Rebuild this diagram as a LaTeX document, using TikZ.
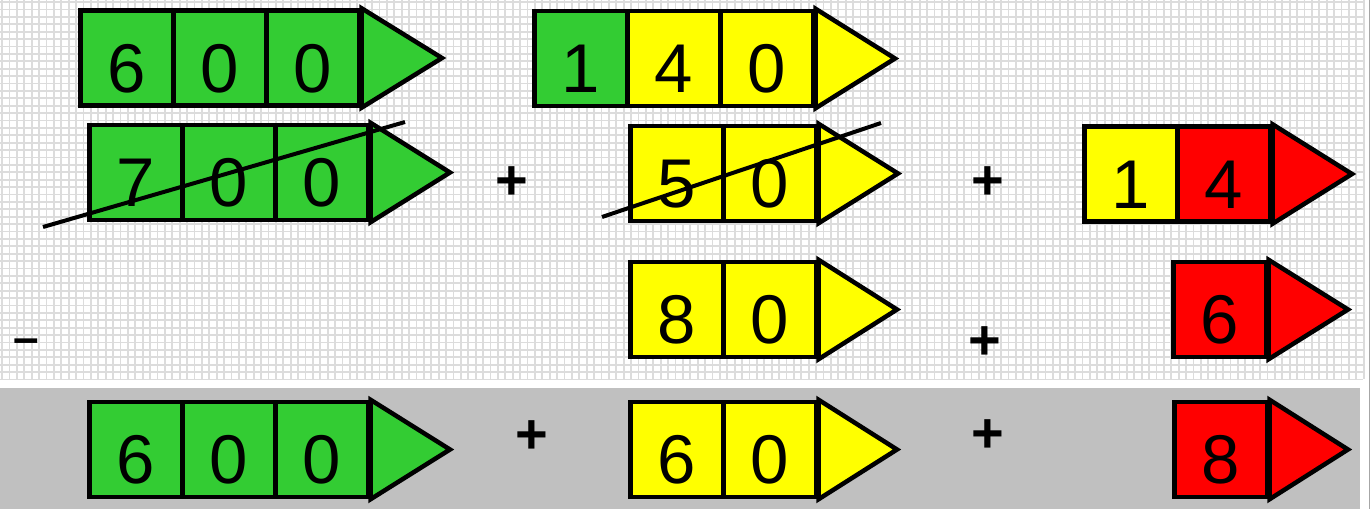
\documentclass[tikz,border=0pt]{standalone}
\usepackage{fontspec}
\setmainfont{Liberation Sans}
\definecolor{pgreen}{RGB}{51,204,51}
\definecolor{pyellow}{RGB}{255,255,0}
\definecolor{pred}{RGB}{255,0,0}
\definecolor{band}{RGB}{192,192,192}
\definecolor{gridc}{RGB}{220,220,220}
\tikzset{
  cellbox/.style={rectangle,draw=black,line width=4.5pt,minimum width=93pt,minimum height=95pt,
    inner sep=0pt,anchor=west,font=\fontsize{69}{69}\selectfont,text height=68pt,text depth=0pt},
  tipshape/.style={draw=black,line width=4.5pt,line join=miter},
  opsign/.style={font=\fontsize{56}{56}\selectfont\bfseries,inner sep=0pt},
  strike/.style={draw=black,line width=4pt}
}
\newcommand\mycell[5]{\node[cellbox,fill=#4] (#1) at (#2,#3) {#5};}
\newcommand\mytip[4]{\coordinate (#1t) at (#2,#3);
  \filldraw[tipshape,fill=#4] (#1.north east) -- (#1t) -- (#1.south east) -- cycle;}
\begin{document}
\begin{tikzpicture}[x=1pt,y=-1pt]
\useasboundingbox (0,0) rectangle (1371,509);
\fill[white] (0,0) rectangle (1371,509);
% grid
\foreach \i in {0,...,184} {\draw[gridc,line width=1.8pt] (\i*7.4+2,0) -- (\i*7.4+2,379);}
\foreach \j in {0,...,51} {\draw[gridc,line width=1.8pt] (0,\j*7.4+2) -- (1363,\j*7.4+2);}
\fill[band] (0,388) rectangle (1360,509);
\draw[gray!70,line width=1.5pt] (1369.5,0) -- (1369.5,509);
% row 1
\mycell{a1}{78}{58}{pgreen}{6}
\mycell{a2}{171}{58}{pgreen}{0}
\mycell{a3}{264}{58}{pgreen}{0}
\mytip{a3}{442}{58}{pgreen}
\mycell{b1}{532}{58.5}{pgreen}{1}
\mycell{b2}{625}{58.5}{pyellow}{4}
\mycell{b3}{718}{58.5}{pyellow}{0}
\mytip{b3}{895}{58.5}{pyellow}
% row 2
\mycell{c1}{87}{172.5}{pgreen}{7}
\mycell{c2}{180}{172.5}{pgreen}{0}
\mycell{c3}{273}{172.5}{pgreen}{0}
\mytip{c3}{450}{172.5}{pgreen}
\mycell{d1}{628}{173.5}{pyellow}{5}
\mycell{d2}{721}{173.5}{pyellow}{0}
\mytip{d2}{898}{173.5}{pyellow}
\mycell{e1}{1082}{174}{pyellow}{1}
\mycell{e2}{1175}{174}{pred}{4}
\mytip{e2}{1352}{174}{pred}
\coordinate (s1a) at (43,227); \coordinate (s1b) at (405,122);
\draw[strike] (s1a) -- (s1b);
\coordinate (s2a) at (602,217); \coordinate (s2b) at (881,123);
\draw[strike] (s2a) -- (s2b);
% row 3
\mycell{f1}{628}{309.5}{pyellow}{8}
\mycell{f2}{721}{309.5}{pyellow}{0}
\mytip{f2}{897}{309.5}{pyellow}
\mycell{g1}{1171}{309.5}{pred}{6}
\mytip{g1}{1348}{309.5}{pred}
% row 4
\mycell{h1}{87}{449.5}{pgreen}{6}
\mycell{h2}{180}{449.5}{pgreen}{0}
\mycell{h3}{273}{449.5}{pgreen}{0}
\mytip{h3}{450}{449.5}{pgreen}
\mycell{i1}{628}{449.5}{pyellow}{6}
\mycell{i2}{721}{449.5}{pyellow}{0}
\mytip{i2}{897}{449.5}{pyellow}
\mycell{j1}{1172}{449.5}{pred}{8}
\mytip{j1}{1348}{449.5}{pred}
% signs
\node[opsign] (p1) at (512,183) {+};
\node[opsign] (p2) at (988,183) {+};
\node[opsign] (p3) at (985,343) {+};
\node[opsign] (p4) at (532,437) {+};
\node[opsign] (p5) at (988,436) {+};
\node[opsign,font=\fontsize{46}{46}\selectfont\bfseries] (m1) at (26,346) {–};
\end{tikzpicture}
\end{document}
